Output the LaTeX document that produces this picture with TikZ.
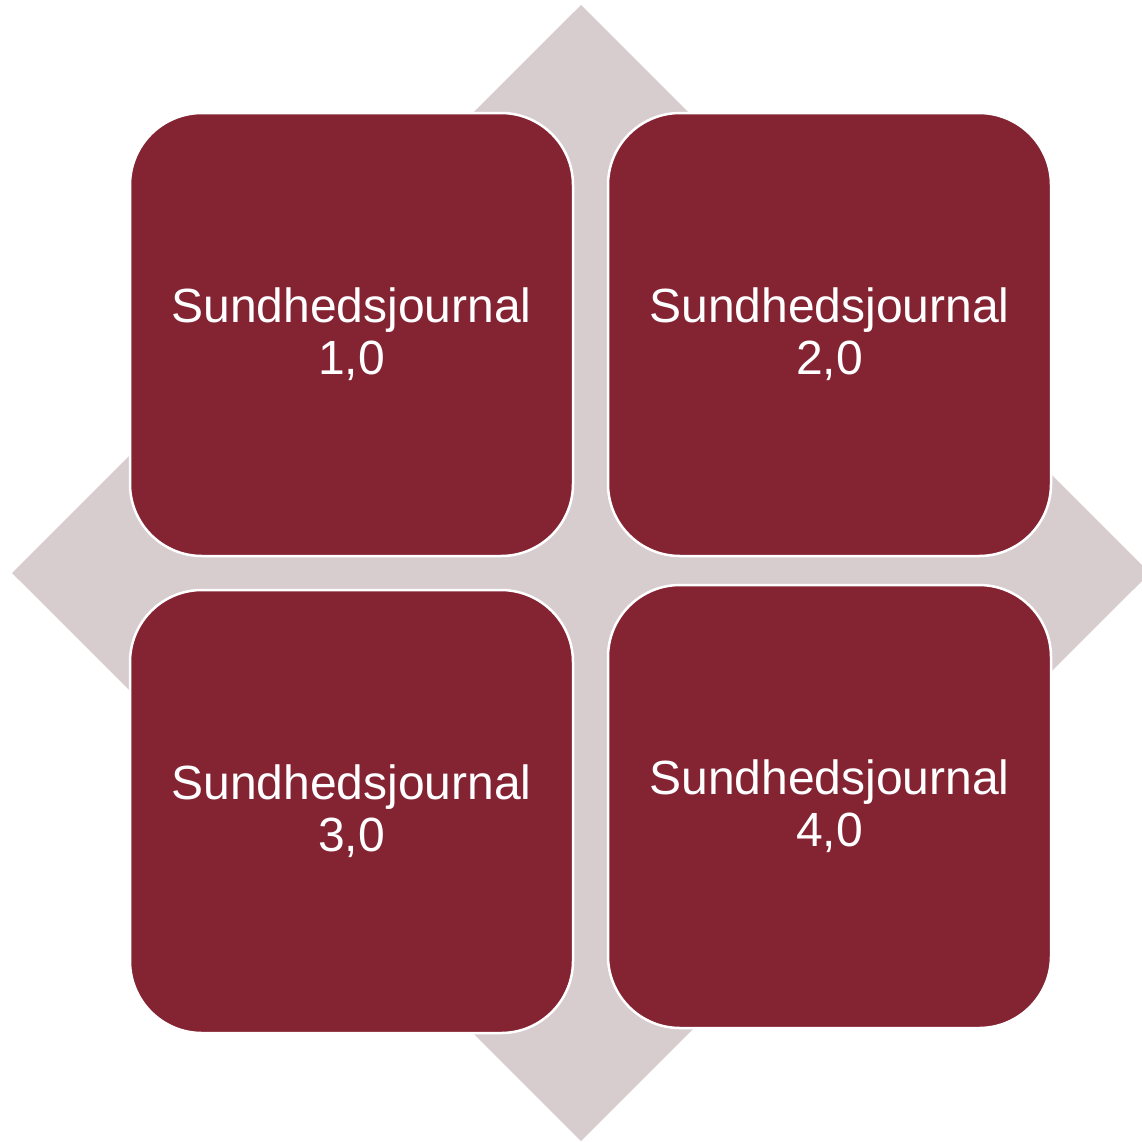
\documentclass[tikz,border=0pt]{standalone}
\usepackage{fontspec}
\setmainfont{Liberation Sans}
\definecolor{boxred}{HTML}{842433}
\definecolor{diamondgrey}{HTML}{D8CDCE}
\begin{document}
\begin{tikzpicture}[x=1pt,y=-1pt,
  card/.style={draw=white, line width=2.5pt, fill=boxred, rounded corners=72pt,
    minimum width=443pt, minimum height=443pt, inner sep=0pt, text=white,
    align=center, font=\fontsize{48}{52}\selectfont}]
\useasboundingbox (0,0) rectangle (1142,1141);
\fill[diamondgrey] (581,5) -- (1150,573) -- (581,1141) -- (12,573) -- cycle;
\node[card] (b1) at (351.5,334.5) {Sundhedsjournal\\1,0};
\node[card] (b2) at (829.5,334.5) {Sundhedsjournal\\2,0};
\node[card] (b3) at (351.5,811.5) {Sundhedsjournal\\3,0};
\node[card] (b4) at (829.5,806.5) {Sundhedsjournal\\4,0};
\end{tikzpicture}
\end{document}
